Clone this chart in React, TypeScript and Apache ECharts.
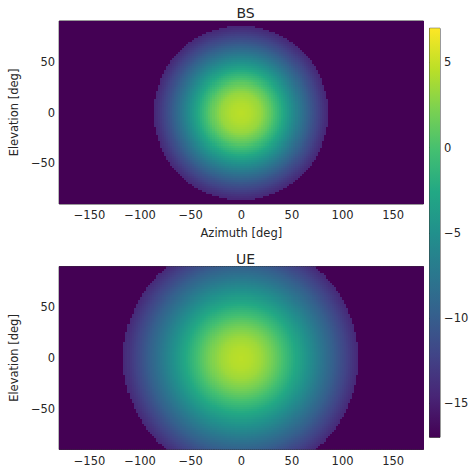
import React, { useEffect, useRef } from "react";
import * as echarts from "echarts";

// ---- data ----
const AZ_TICKS = [-150, -100, -50, 0, 50, 100, 150];
const EL_TICKS = [-50, 0, 50];
const CBAR_TICKS = [-15, -10, -5, 0, 5];
const CBAR_MIN = -17;
const CBAR_MAX = 7;
const FLOOR_DB = -17;

// radial gain profiles: off-boresight angle (deg) -> gain (dB)
const BS_RADIUS = [0, 10, 20, 30, 40, 50, 60, 70, 80, 85];
const BS_GAIN = [4.6, 4.2, 3.2, 0.9, -2.0, -5.0, -8.0, -10.8, -13.2, -14.3];
const UE_RADIUS = [0, 10, 20, 30, 40, 50, 60, 70, 80, 90, 100, 110, 115];
const UE_GAIN = [4.6, 4.3, 3.5, 2.1, 0.3, -1.7, -3.7, -5.7, -7.7, -9.6, -11.5, -13.3, -14.2];

const CELL = 2; // degrees per heatmap cell

const VIRIDIS = [
  "#440154", "#482576", "#414487", "#35608D", "#2A788E", "#21908C",
  "#22A884", "#43BF71", "#7AD151", "#BBDF27", "#FDE725",
];

function gainAt(r: number, radius: number[], gain: number[]): number {
  const n = radius.length;
  if (r > radius[n - 1] + CELL / 2) return FLOOR_DB;
  if (r >= radius[n - 1]) return gain[n - 1];
  for (let i = 0; i < n - 1; i++) {
    if (r <= radius[i + 1]) {
      const t = (r - radius[i]) / (radius[i + 1] - radius[i]);
      return gain[i] + t * (gain[i + 1] - gain[i]);
    }
  }
  return FLOOR_DB;
}

function buildCells(radius: number[], gain: number[]) {
  const out: number[][] = [];
  for (let az = -180 + CELL / 2; az < 180; az += CELL) {
    for (let el = -90 + CELL / 2; el < 90; el += CELL) {
      out.push([az, el, gainAt(Math.hypot(az, el), radius, gain)]);
    }
  }
  return out;
}

const TEXT = "#262626";
const FONT = "DejaVu Sans";
const fmt = (v: number) => String(v).replace("-", "\u2212");

export default function App() {
  const ref = useRef<HTMLDivElement>(null);
  useEffect(() => {
    document.body.style.margin = "0";
    if (!ref.current) return;
    const chart = echarts.init(ref.current, undefined, { renderer: "svg" });

    const renderCell = (_p: any, api: any) => {
      const az = api.value(0);
      const el = api.value(1);
      const p0 = api.coord([az - CELL / 2, el + CELL / 2]);
      const p1 = api.coord([az + CELL / 2, el - CELL / 2]);
      const x0 = Math.floor(p0[0]);
      const y0 = Math.floor(p0[1]);
      const x1 = Math.ceil(p1[0]);
      const y1 = Math.ceil(p1[1]);
      return {
        type: "rect",
        shape: { x: x0, y: y0, width: x1 - x0, height: y1 - y0 },
        style: { fill: api.visual("color"), stroke: null },
      };
    };

    const renderBar = (_p: any, api: any) => {
      const p0 = api.coord([0, CBAR_MAX]);
      const p1 = api.coord([1, CBAR_MIN]);
      return {
        type: "rect",
        shape: { x: p0[0], y: p0[1], width: p1[0] - p0[0], height: p1[1] - p0[1] },
        style: {
          fill: new echarts.graphic.LinearGradient(
            0, 1, 0, 0,
            VIRIDIS.map((c, i) => ({ offset: i / (VIRIDIS.length - 1), color: c }))
          ),
        },
      };
    };

    const gridBase = { show: true, borderColor: "#000", borderWidth: 0.8, backgroundColor: "transparent" };
    const tick = (vals: number[]) => ({
      show: true, length: 3.5, inside: false, customValues: vals,
      lineStyle: { color: "#000", width: 0.8 },
    });
    const label = (vals: number[], margin: number) => ({
      show: true, customValues: vals, formatter: fmt, fontSize: 11.5,
      color: TEXT, fontFamily: FONT, margin,
    });
    const nameStyle = { fontSize: 11.5, color: TEXT, fontFamily: FONT };

    const xAxisFor = (gi: number, name?: string) => ({
      gridIndex: gi, type: "value", min: -180, max: 180,
      axisLine: { show: false }, splitLine: { show: false },
      axisTick: tick(AZ_TICKS), axisLabel: label(AZ_TICKS, 5),
      name: name, nameLocation: "middle", nameGap: 23, nameTextStyle: nameStyle,
    });
    const yAxisFor = (gi: number) => ({
      gridIndex: gi, type: "value", min: -90, max: 90,
      axisLine: { show: false }, splitLine: { show: false },
      axisTick: tick(EL_TICKS), axisLabel: label(EL_TICKS, 4),
      name: "Elevation [deg]", nameLocation: "middle", nameGap: 37, nameTextStyle: nameStyle,
    });

    const cellSeries = (name: string, idx: number, data: number[][]) => ({
      type: "custom", name, xAxisIndex: idx, yAxisIndex: idx, clip: true,
      renderItem: renderCell, data, silent: true,
      progressive: 0, progressiveThreshold: 1000000, z: 1,
    });

    chart.setOption({
      animation: false,
      title: [
        { text: "BS", left: 240.5, top: 1, textAlign: "center",
          textStyle: { fontSize: 14, fontWeight: "normal", color: TEXT, fontFamily: FONT } },
        { text: "UE", left: 240.5, top: 247, textAlign: "center",
          textStyle: { fontSize: 14, fontWeight: "normal", color: TEXT, fontFamily: FONT } },
      ],
      grid: [
        { ...gridBase, left: 57.5, top: 21, width: 366, height: 183 },
        { ...gridBase, left: 57.5, top: 266.5, width: 366, height: 183 },
        { ...gridBase, left: 429.5, top: 28.3, width: 10.5, height: 409 },
      ],
      xAxis: [
        xAxisFor(0, "Azimuth [deg]"),
        xAxisFor(1),
        { gridIndex: 2, type: "value", min: 0, max: 1, show: false },
      ],
      yAxis: [
        yAxisFor(0),
        yAxisFor(1),
        {
          gridIndex: 2, type: "value", min: CBAR_MIN, max: CBAR_MAX, position: "right",
          axisLine: { show: false }, splitLine: { show: false },
          axisTick: tick(CBAR_TICKS), axisLabel: label(CBAR_TICKS, 4),
        },
      ],
      visualMap: {
        type: "continuous", show: false, min: CBAR_MIN, max: CBAR_MAX,
        dimension: 2, seriesIndex: [0, 1], inRange: { color: VIRIDIS },
      },
      series: [
        cellSeries("BS", 0, buildCells(BS_RADIUS, BS_GAIN)),
        cellSeries("UE", 1, buildCells(UE_RADIUS, UE_GAIN)),
        { type: "custom", name: "colorbar", xAxisIndex: 2, yAxisIndex: 2,
          renderItem: renderBar, data: [[0, 0]], silent: true },
      ],
    });
    return () => chart.dispose();
  }, []);
  return <div ref={ref} style={{ width: 473, height: 471 }} />;
}
